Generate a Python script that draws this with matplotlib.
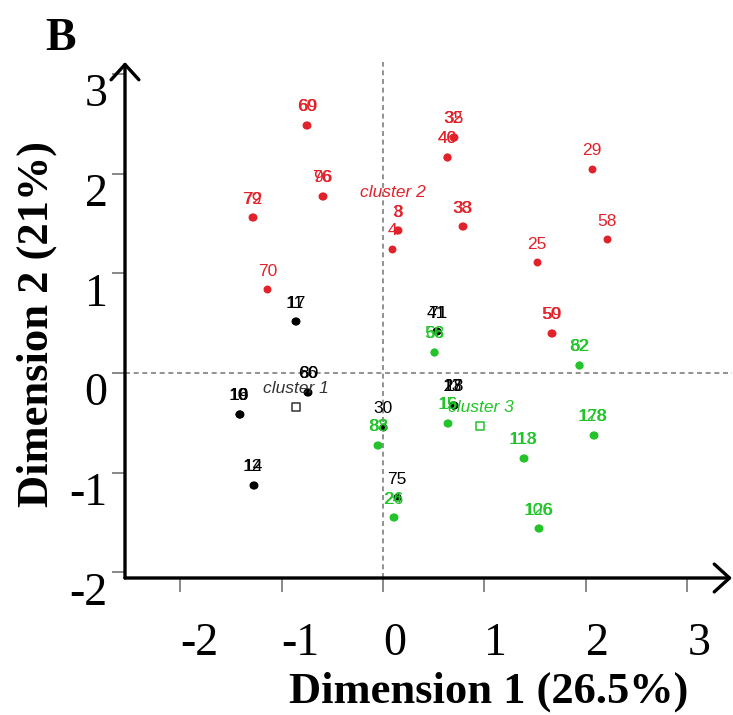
import numpy as np
import matplotlib
matplotlib.use("Agg")
import matplotlib.pyplot as plt

# individus du cluster 1 (noir)
c1_ids = ["11", "17", "66", "80", "10", "19", "16", "12", "14", "41", "71",
          "13", "27", "18", "30", "75"]
c1_x = [-0.87, -0.86, -0.745, -0.735, -1.425, -1.415, -1.42, -1.285, -1.275,
        0.525, 0.535, 0.685, 0.69, 0.70, 0.00, 0.14]
c1_y = [0.52, 0.52, -0.19, -0.19, -0.41, -0.41, -0.41, -1.12, -1.12,
        0.42, 0.42, -0.32, -0.32, -0.32, -0.54, -1.25]

# individus du cluster 2 (rouge)
c2_ids = ["60", "69", "76", "96", "79", "72", "70", "3", "8", "4", "32", "35",
          "40", "46", "29", "38", "33", "58", "25", "50", "59"]
c2_x = [-0.755, -0.745, -0.605, -0.595, -1.29, -1.285, -1.14, 0.14, 0.145,
        0.09, 0.685, 0.695, 0.63, 0.635, 2.06, 0.78, 0.785, 2.21, 1.52,
        1.66, 1.665]
c2_y = [2.49, 2.49, 1.78, 1.78, 1.56, 1.56, 0.84, 1.43, 1.43, 1.245, 2.37,
        2.37, 2.17, 2.17, 2.05, 1.47, 1.47, 1.34, 1.11, 0.40, 0.40]

# individus du cluster 3 (vert)
c3_ids = ["56", "68", "82", "62", "15", "16", "128", "178", "113", "118",
          "83", "88", "24", "26", "106", "126"]
c3_x = [0.50, 0.505, 1.93, 1.935, 0.635, 0.645, 2.065, 2.075, 1.375, 1.385,
        -0.055, -0.045, 0.095, 0.105, 1.525, 1.535]
c3_y = [0.21, 0.21, 0.08, 0.08, -0.50, -0.50, -0.62, -0.62, -0.85, -0.85,
        -0.72, -0.72, -1.45, -1.45, -1.56, -1.56]

# centres des clusters (le carré du cluster 2 n'est pas visible)
centre_noms = ["cluster 1", "cluster 2", "cluster 3"]
centre_x = [-0.86, 0.10, 0.96]
centre_y = [-0.34, 1.63, -0.53]
centre_visible = [True, False, True]

graduations = [-2, -1, 0, 1, 2, 3]
etiquettes = ["-2", "-1", "0", "1", "2", "3"]

rouge = "#e2222a"
vert = "#22c42a"
couleurs = ["black", rouge, vert]
couleurs_centre = ["#333333", rouge, vert]

fig = plt.figure(figsize=(7.33, 7.15), dpi=100)
ax = fig.add_axes([125 / 733, 1 - 578 / 715, 607 / 733, 516 / 715])
ax.set_xlim(-2.544, 3.44)
ax.set_ylim(-2.058, 3.12)

for s in ax.spines.values():
    s.set_visible(False)

# axes fléchés
for fin in [(1, 0), (0, 1)]:
    ax.annotate("", xy=fin, xytext=(0, 0), xycoords="axes fraction",
                textcoords="axes fraction", annotation_clip=False,
                arrowprops=dict(arrowstyle="->,head_length=0.55,head_width=0.5",
                                lw=2.4, color="black", mutation_scale=20,
                                shrinkA=0, shrinkB=0))

ax.axvline(0, color="#7f7f7f", ls=(0, (3, 2.2)), lw=1.2, zorder=1)
ax.axhline(0, color="#7f7f7f", ls=(0, (3, 2.2)), lw=1.2, zorder=1)

ax.set_xticks(graduations, etiquettes, fontfamily="Liberation Serif", fontsize=33)
ax.set_yticks(graduations, etiquettes, fontfamily="Liberation Serif", fontsize=33)
ax.tick_params(axis="x", length=10, width=1.4, color="#888888", pad=22)
ax.tick_params(axis="y", length=9.5, width=1.4, color="#888888", pad=3)
for t in ax.get_xticklabels():
    t.set_horizontalalignment("left")
for t in ax.get_yticklabels():
    t.set_verticalalignment("top")

# points et étiquettes
groupes = [(c1_ids, c1_x, c1_y), (c2_ids, c2_x, c2_y), (c3_ids, c3_x, c3_y)]
for k, (ids, xs, ys) in enumerate(groupes):
    if centre_visible[k]:
        ax.scatter(centre_x[k], centre_y[k], marker="s", s=30, facecolors="white",
                   edgecolors=couleurs_centre[k], linewidths=1.1, zorder=3)
    ax.scatter(xs, ys, s=22, color=couleurs[k], zorder=3)
    for nom, x, y in zip(ids, xs, ys):
        ax.annotate(nom, (x, y), xytext=(0, 13), textcoords="offset points",
                    ha="center", va="center", fontsize=12.5,
                    fontfamily="Liberation Sans", color=couleurs[k], zorder=4)
    ax.annotate(centre_noms[k], (centre_x[k], centre_y[k]), xytext=(0, 13),
                textcoords="offset points", ha="center", va="center",
                fontsize=12.5, fontstyle="italic", fontfamily="Liberation Sans",
                color=couleurs_centre[k], zorder=4)

fig.text(489 / 733, 1 - 703 / 715, "Dimension 1 (26.5%)", ha="center",
         va="baseline", fontsize=32, fontweight="bold", family="Liberation Serif")
fig.text(37 / 733, 1 - 324 / 715, "Dimension 2 (21%)", ha="center", va="center",
         rotation=90, fontsize=32, fontweight="bold", family="Liberation Serif")
fig.text(45 / 733, 1 - 50 / 715, "B", ha="left", va="baseline", fontsize=33,
         fontweight="bold", family="Liberation Serif")

fig.savefig("out.png", dpi=100)
